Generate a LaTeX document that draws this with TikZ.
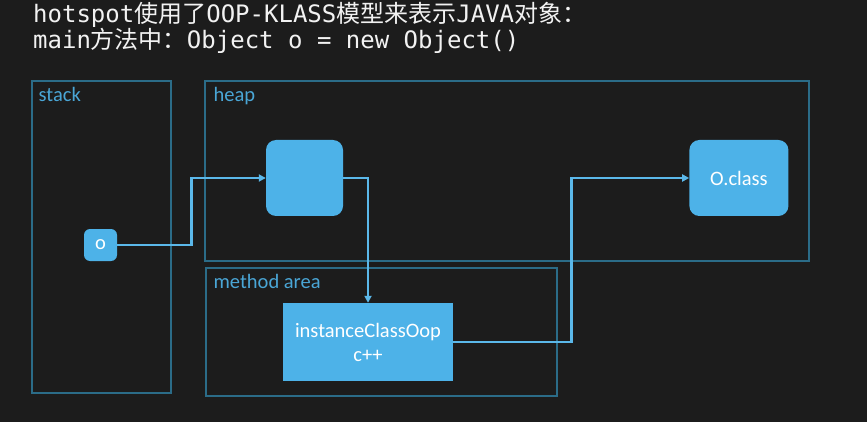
\documentclass[tikz,border=0pt]{standalone}
\usepackage{fontspec}
\setsansfont{Carlito}
\setmonofont{DejaVu Sans Mono}
\newfontfamily\cjk{Noto Sans CJK SC}[Scale=1.0]
\usetikzlibrary{positioning, arrows.meta, calc}
\definecolor{chalkBg}{HTML}{1C1C1C}
\definecolor{areaLine}{HTML}{2B6C88}
\definecolor{areaText}{HTML}{4AA6D6}
\definecolor{boxFill}{HTML}{4DB2E8}
\definecolor{wire}{HTML}{5BB8EA}
\definecolor{chalkWhite}{HTML}{F2F2F2}
\tikzset{
  every node/.style={font=\sffamily},
  arr/.style={-{Triangle[length=7pt, width=7pt]}, line width=2.7pt, draw=wire},
  area/.style={draw=areaLine, line width=1.2pt, inner sep=0pt},
  areaLbl/.style={text=areaText, font=\sffamily\fontsize{20.5}{22}\selectfont, inner sep=0pt, anchor=base west},
  blk/.style={fill=boxFill, text=white, inner sep=0pt, align=center, font=\sffamily\fontsize{20.5}{24}\selectfont},
  blkR/.style={blk, rounded corners=10pt},
  title/.style={text=chalkWhite, font=\ttfamily\fontsize{24}{26}\selectfont, inner sep=0pt, anchor=base west},
}

\begin{document}
\begin{tikzpicture}[x=1pt, y=-1pt]
  \path[use as bounding box, fill=chalkBg] (0,0) rectangle (867,422);
  % title
  \node[title] (line1) at (33,23) {hotspot{\cjk 使用了}OOP-KLASS{\cjk 模型来表示}JAVA{\cjk 对象：}};
  \node[title] (line2) at (33,49) {main{\cjk 方法中：}Object o = new Object()};
  % memory areas
  \node[area, minimum width=139pt, minimum height=312pt] (stack) at (101.5,237) {};
  \node[area, minimum width=604pt, minimum height=180pt] (heap) at (507,171) {};
  \node[area, minimum width=351pt, minimum height=128pt] (method) at (381.5,332) {};
  \node[areaLbl] (stackLbl) at ($(stack.north west)+(7,21)$) {stack};
  \node[areaLbl] (heapLbl) at ($(heap.north west)+(9,21)$) {heap};
  \node[areaLbl] (methodLbl) at ($(method.north west)+(8,21)$) {method area};
  % objects
  \node[blk, rounded corners=6pt, minimum width=33pt, minimum height=32pt] (o) at (100.5,245) {o};
  \node[blkR, minimum width=77pt, minimum height=76pt] (obj) at (304.5,178) {};
  \node[blkR, minimum width=99pt, minimum height=76pt, right=346pt of obj] (oclass) {O.class};
  \node[blk, minimum width=170pt, minimum height=78pt] (inst) at (368,342) {instanceClassOop\\c++};
  \draw[arr] (o.east) -- ++(74.5,0) |- (obj.west);
  \draw[arr] (obj.east) -| (inst.north);
  \draw[arr] (inst.east) -- ++(118,0) |- (oclass.west);
\end{tikzpicture}
\end{document}
